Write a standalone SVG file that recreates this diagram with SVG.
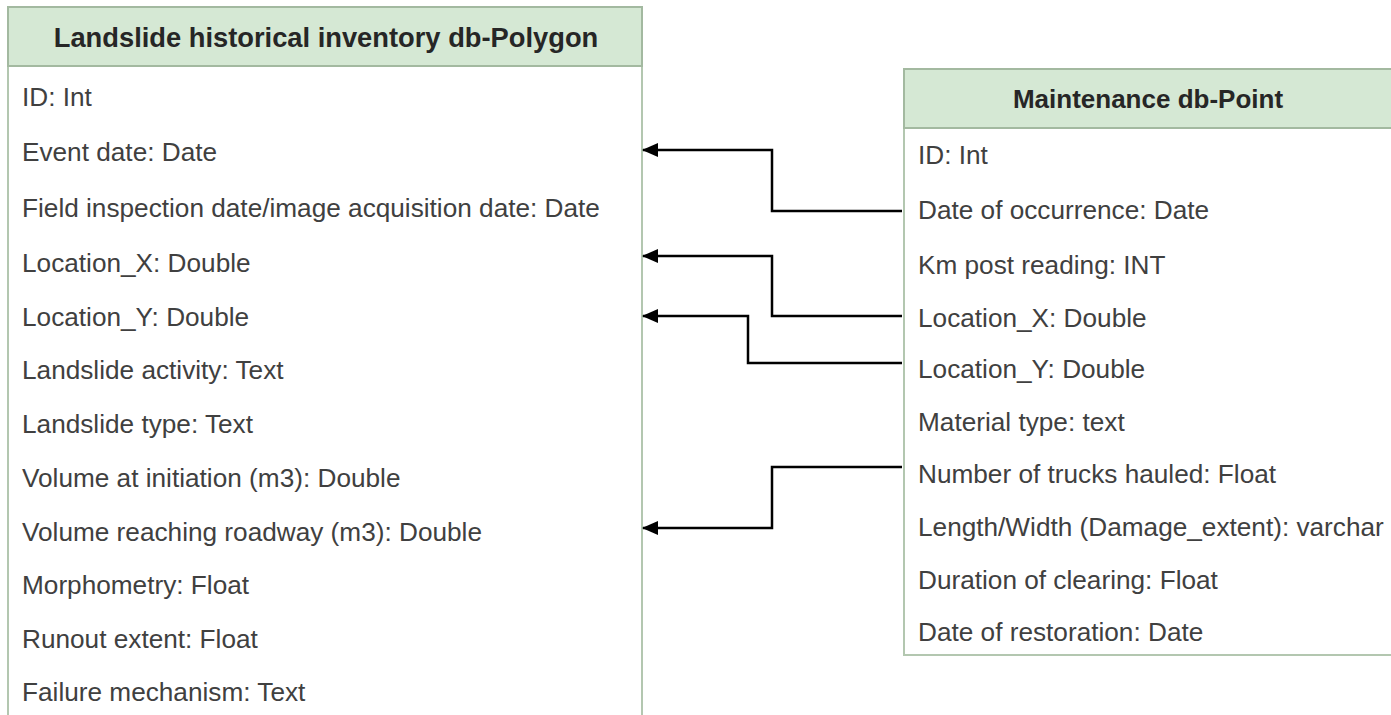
<svg xmlns="http://www.w3.org/2000/svg" width="1391" height="715" viewBox="0 0 1391 715">
  <style>
    .box { fill: #ffffff; stroke: #b3c7b0; stroke-width: 2; }
    .head { fill: #d5e8d4; stroke: #a3b9a0; stroke-width: 2; }
    .title { font-family: "Liberation Sans", Arial, sans-serif; font-size: 26px; font-weight: bold; fill: #262626; text-anchor: middle; }
    .row { font-family: "Liberation Sans", Arial, sans-serif; font-size: 26.2px; fill: #404040; }
    .link { fill: none; stroke: #000000; stroke-width: 2.5; }
  </style>
  <defs>
    <marker id="arrow" markerWidth="16" markerHeight="14" refX="15" refY="7" orient="auto" markerUnits="userSpaceOnUse" viewBox="0 0 16 14">
      <path d="M0,0 L16,7 L0,14 z" fill="#000000"/>
    </marker>
  </defs>
  <rect width="1391" height="715" fill="#ffffff"/>

  <!-- Landslide inventory table -->
  <g id="landslide-inventory">
    <rect class="box" x="8" y="7" width="634" height="720"/>
    <rect class="head" x="8" y="7" width="634" height="59"/>
    <text class="title" x="326" y="47" style="font-size:27.3px">Landslide historical inventory db-Polygon</text>
    <text class="row" x="22" y="106">ID: Int</text>
    <text class="row" x="22" y="161">Event date: Date</text>
    <text class="row" x="22" y="217">Field inspection date/image acquisition date: Date</text>
    <text class="row" x="22" y="272">Location_X: Double</text>
    <text class="row" x="22" y="326">Location_Y: Double</text>
    <text class="row" x="22" y="379">Landslide activity: Text</text>
    <text class="row" x="22" y="433">Landslide type: Text</text>
    <text class="row" x="22" y="487">Volume at initiation (m3): Double</text>
    <text class="row" x="22" y="541">Volume reaching roadway (m3): Double</text>
    <text class="row" x="22" y="594">Morphometry: Float</text>
    <text class="row" x="22" y="648">Runout extent: Float</text>
    <text class="row" x="22" y="701">Failure mechanism: Text</text>
  </g>

  <!-- Maintenance table -->
  <g id="maintenance">
    <rect class="box" x="904" y="69" width="500" height="586"/>
    <rect class="head" x="904" y="69" width="500" height="59"/>
    <text class="title" x="1148" y="108">Maintenance db-Point</text>
    <text class="row" x="918" y="164">ID: Int</text>
    <text class="row" x="918" y="219">Date of occurrence: Date</text>
    <text class="row" x="918" y="274">Km post reading: INT</text>
    <text class="row" x="918" y="327">Location_X: Double</text>
    <text class="row" x="918" y="378">Location_Y: Double</text>
    <text class="row" x="918" y="431">Material type: text</text>
    <text class="row" x="918" y="483">Number of trucks hauled: Float</text>
    <text class="row" x="918" y="536">Length/Width (Damage_extent): varchar</text>
    <text class="row" x="918" y="589">Duration of clearing: Float</text>
    <text class="row" x="918" y="641">Date of restoration: Date</text>
  </g>

  <!-- Field links -->
  <g id="connectors">
    <path class="link" marker-end="url(#arrow)" d="M902,211 H772 V150 H643"/>
    <path class="link" marker-end="url(#arrow)" d="M902,316 H772 V256 H643"/>
    <path class="link" marker-end="url(#arrow)" d="M902,363 H748 V316 H643"/>
    <path class="link" marker-end="url(#arrow)" d="M902,467 H772 V528 H643"/>
  </g>
</svg>
